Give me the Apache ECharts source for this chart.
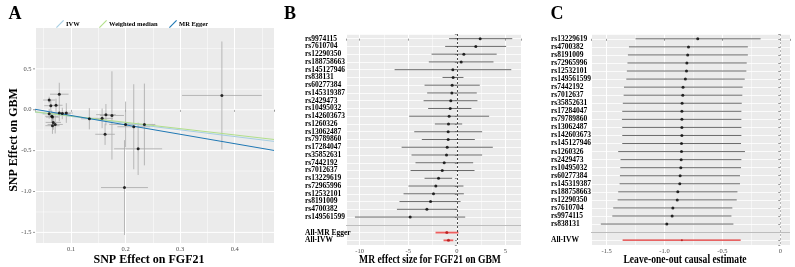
<!DOCTYPE html>
<html>
<head>
<meta charset="utf-8">
<script src="https://cdn.jsdelivr.net/npm/echarts@6/dist/echarts.min.js"></script>
<style>
  html, body { margin: 0; padding: 0; background: #fff; }
  #main { width: 795px; height: 267px; }
</style>
</head>
<body>
<div id="main"></div>
<script>
// ---- panel A: SNP effects (FGF21 vs GBM)
const aBetaX = [0.060, 0.0785, 0.063, 0.0725, 0.060, 0.0646, 0.066, 0.0675, 0.066, 0.071, 0.0785, 0.084, 0.0914, 0.1336, 0.157, 0.164, 0.175, 0.1624, 0.200, 0.215, 0.2345, 0.223, 0.198, 0.3765];
const aSeX = [0.011, 0.017, 0.012, 0.012, 0.012, 0.012, 0.012, 0.014, 0.013, 0.014, 0.015, 0.015, 0.012, 0.015, 0.020, 0.018, 0.022, 0.018, 0.030, 0.030, 0.020, 0.044, 0.043, 0.073];
const aBetaY = [0.119, 0.19, 0.05, 0.055, -0.05, -0.08, -0.09, -0.155, -0.195, -0.18, -0.04, -0.045, -0.04, -0.11, -0.105, -0.06, -0.07, -0.30, -0.18, -0.208, -0.18, -0.478, -0.952, 0.175];
const aSeY = [0.04, 0.14, 0.07, 0.08, 0.06, 0.07, 0.06, 0.09, 0.10, 0.11, 0.10, 0.07, 0.12, 0.13, 0.12, 0.13, 0.54, 0.13, 0.28, 0.52, 0.50, 0.32, 0.58, 0.66];
const fitNames = ['IVW', 'Weighted median', 'MR Egger'];
const fitSlopes = [-0.82, -0.77, -1.15];
const fitIntercepts = [0, 0, 0.045];
const aXRange = [0.034, 0.472];
const aYRange = [-1.63, 1.0];
const aYTicks = [-1.5, -1.0, -0.5, 0, 0.5];
const aYMinorTicks = [-1.25, -0.75, -0.25, 0.25, 0.75];

// ---- panel B: single SNP MR estimates
const snpB = ['rs9974115', 'rs7610704', 'rs12290350', 'rs188758663', 'rs145127946', 'rs838131', 'rs60277384', 'rs145319387', 'rs2429473', 'rs10495032', 'rs142603673', 'rs1260326', 'rs13062487', 'rs79789860', 'rs17284047', 'rs35852631', 'rs7442192', 'rs7012637', 'rs13229619', 'rs72965996', 'rs12532101', 'rs8191009', 'rs4700382', 'rs149561599'];
const bEst = [2.4, 1.95, 0.72, 0.45, -0.41, -0.38, -0.48, -0.51, -0.62, -0.68, -0.79, -0.86, -0.89, -0.89, -0.99, -1.06, -1.3, -1.5, -1.88, -2.16, -2.4, -2.7, -3.08, -4.8];
const bLo = [-0.8, -1.2, -2.6, -2.88, -6.4, -1.47, -3.32, -3.05, -3.42, -2.95, -4.9, -2.26, -4.38, -3.6, -5.68, -4.66, -4.25, -4.76, -3.32, -4.97, -5.48, -5.9, -6.16, -10.48];
const bHi = [5.7, 5.07, 4.1, 3.77, 5.6, 0.68, 2.36, 2.05, 2.12, 1.5, 3.32, 0.55, 2.6, 1.85, 3.7, 2.6, 1.68, 1.82, -0.48, 0.68, 0.72, 0.38, 0.07, 0.86];
const sumNamesB = ['All-MR Egger', 'All-IVW'];
const sumEstB = [-1.03, -0.86];
const sumLoB = [-2.19, -1.37];
const sumHiB = [0.17, -0.36];

// ---- panel C: leave-one-out
const snpC = ['rs13229619', 'rs4700382', 'rs8191009', 'rs72965996', 'rs12532101', 'rs149561599', 'rs7442192', 'rs7012637', 'rs35852631', 'rs17284047', 'rs79789860', 'rs13062487', 'rs142603673', 'rs145127946', 'rs1260326', 'rs2429473', 'rs10495032', 'rs60277384', 'rs145319387', 'rs188758663', 'rs12290350', 'rs7610704', 'rs9974115', 'rs838131'];
const cEst = [-0.713, -0.793, -0.80, -0.807, -0.81, -0.82, -0.84, -0.842, -0.848, -0.85, -0.85, -0.85, -0.85, -0.853, -0.853, -0.856, -0.859, -0.865, -0.868, -0.885, -0.89, -0.928, -0.934, -0.98];
const cLo = [-1.25, -1.307, -1.316, -1.32, -1.325, -1.33, -1.35, -1.353, -1.36, -1.365, -1.368, -1.365, -1.365, -1.365, -1.40, -1.38, -1.382, -1.385, -1.388, -1.40, -1.405, -1.443, -1.451, -1.55];
const cHi = [-0.17, -0.28, -0.28, -0.29, -0.293, -0.307, -0.325, -0.328, -0.333, -0.336, -0.336, -0.336, -0.336, -0.339, -0.305, -0.336, -0.339, -0.348, -0.348, -0.37, -0.376, -0.414, -0.422, -0.405];
const sumNamesC = ['All-IVW'];
const sumEstC = [-0.85];
const sumLoC = [-1.362];
const sumHiC = [-0.342];

const serif = '"Liberation Serif", "DejaVu Serif", serif';
const fitColors = ['#a6cee3', '#b2df8a', '#1f78b4'];

const rowsB = snpB.concat([''], sumNamesB);
const rowsC = snpC.concat([''], sumNamesC);

const chart = echarts.init(document.getElementById('main'));

function hBar(color, width) {
  return function (params, api) {
    const p1 = api.coord([api.value(0), api.value(2)]);
    const p2 = api.coord([api.value(1), api.value(2)]);
    return {
      type: 'line',
      shape: { x1: p1[0], y1: p1[1], x2: p2[0], y2: p2[1] },
      style: { stroke: color, lineWidth: width }
    };
  };
}

function crossBars(params, api) {
  const x = api.value(0), y = api.value(1), sx = api.value(2), sy = api.value(3);
  const l = api.coord([x - sx, y]), r = api.coord([x + sx, y]);
  const t = api.coord([x, y + sy]), b = api.coord([x, y - sy]);
  const st = { stroke: '#a8a8a8', lineWidth: 0.8 };
  return {
    type: 'group',
    children: [
      { type: 'line', shape: { x1: l[0], y1: l[1], x2: r[0], y2: r[1] }, style: st },
      { type: 'line', shape: { x1: t[0], y1: t[1], x2: b[0], y2: b[1] }, style: st }
    ]
  };
}

// panel A horizontal grid + tick labels, placed through the y scale
function yGrid(params, api) {
  const v = api.value(0), major = api.value(1) === 1;
  const p1 = api.coord([aXRange[0], v]);
  const p2 = api.coord([aXRange[1], v]);
  const kids = [
    { type: 'line', shape: { x1: p1[0], y1: p1[1], x2: p2[0], y2: p2[1] },
      style: { stroke: '#fff', lineWidth: major ? 1 : 0.5 } }
  ];
  if (major) {
    kids.push({ type: 'line', shape: { x1: p1[0] - 2, y1: p1[1], x2: p1[0], y2: p1[1] },
      style: { stroke: '#333', lineWidth: 0.5 } });
    kids.push({ type: 'text', x: p1[0] - 3.5, y: p1[1],
      style: { text: v.toFixed(1), textAlign: 'right', textVerticalAlign: 'middle',
        font: '6.5px ' + serif, fill: '#4d4d4d' } });
  }
  return { type: 'group', children: kids };
}

// label only the "round" ticks strictly inside the range
function stepLabel(step, range, fmt) {
  return function (v) {
    const k = Math.round(v / step);
    const onStep = Math.abs(v - k * step) < step * 1e-4;
    const inside = v > range[0] + step * 0.05 && v < range[1] - step * 0.05;
    return onStep && inside ? fmt(k * step) : '';
  };
}

const tickLabel = { fontFamily: serif, fontSize: 6.5, color: '#4d4d4d', margin: 3 };
const majorLine = { show: true, lineStyle: { color: '#fff', width: 1 } };
const minorLine = { show: true, lineStyle: { color: '#fff', width: 0.5 } };

function valueAxis(idx, range, step, fmt) {
  return {
    type: 'value', gridIndex: idx, min: range[0], max: range[1],
    minInterval: step, maxInterval: step,
    axisLine: { show: false },
    axisTick: { show: true, length: 2, lineStyle: { color: '#333', width: 0.5 } },
    axisLabel: Object.assign({ formatter: stepLabel(step, range, fmt) }, tickLabel),
    splitLine: majorLine,
    minorTick: { show: false, splitNumber: 2 },
    minorSplitLine: minorLine
  };
}

function rowAxis(idx, rows, margin) {
  return {
    type: 'value', gridIndex: idx, inverse: true,
    min: -0.6, max: rows.length - 0.4,
    minInterval: 1, maxInterval: 1,
    axisLine: { show: false },
    axisTick: { show: true, length: 2, lineStyle: { color: '#333', width: 0.5 } },
    splitLine: { show: true, lineStyle: { color: '#fff', width: 0.8 } },
    axisLabel: {
      fontFamily: serif, fontSize: 7.5, fontWeight: 'bold', color: '#000',
      align: 'left', margin: margin,
      formatter: function (v) {
        const r = Math.round(v);
        return Math.abs(v - r) < 1e-6 && rows[r] ? rows[r] : '';
      }
    }
  };
}

const aErr = aBetaX.map((x, i) => [x, aBetaY[i], aSeX[i], aSeY[i]]);
const aPts = aBetaX.map((x, i) => [x, aBetaY[i]]);
const aGridData = aYTicks.map(v => [v, 1]).concat(aYMinorTicks.map(v => [v, 0]));

const fitSeries = fitNames.map((name, i) => ({
  name: name, type: 'line', xAxisIndex: 0, yAxisIndex: 0,
  showSymbol: false, silent: true, z: 4,
  lineStyle: { color: fitColors[i], width: 1 },
  itemStyle: { color: fitColors[i] },
  data: aXRange.map(x => [x, fitIntercepts[i] + fitSlopes[i] * x])
}));

const legendLefts = [56, 99, 169];
const legends = fitNames.map((n, i) => ({
  left: legendLefts[i], top: 20, itemWidth: 8, itemHeight: 8, padding: 0,
  selectedMode: false,
  textStyle: { fontFamily: serif, fontSize: 6.5, fontWeight: 'bold', color: '#000', padding: [0, 0, 0, -3] },
  data: [{ name: n, icon: 'path://M0,9 L1,10 L10,1 L9,0 Z' }]
}));

const option = {
  animation: false,
  backgroundColor: '#fff',
  legend: legends,
  grid: [
    { left: 35, top: 28, width: 239, height: 215, show: true, backgroundColor: '#ebebeb', borderWidth: 0 },
    { left: 346, top: 34, width: 175, height: 211, show: true, backgroundColor: '#ebebeb', borderWidth: 0 },
    { left: 591, top: 34, width: 199, height: 211, show: true, backgroundColor: '#ebebeb', borderWidth: 0 }
  ],
  xAxis: [
    valueAxis(0, aXRange, 0.1, v => v.toFixed(1)),
    valueAxis(1, [-11.4, 6.6], 5, v => String(v)),
    valueAxis(2, [-1.635, 0.084], 0.5, v => v === 0 ? '0' : v.toFixed(1))
  ],
  yAxis: [
    {
      type: 'value', gridIndex: 0, min: aYRange[0], max: aYRange[1],
      axisLine: { show: false }, axisTick: { show: false }, axisLabel: { show: false },
      splitLine: { show: false }, minorSplitLine: { show: false }
    },
    rowAxis(1, rowsB, 41),
    rowAxis(2, rowsC, 40)
  ],
  series: [
    {
      type: 'custom', xAxisIndex: 0, yAxisIndex: 0, clip: false, silent: true, z: 1,
      renderItem: yGrid, encode: { y: 0 }, data: aGridData
    },
    {
      type: 'custom', xAxisIndex: 0, yAxisIndex: 0, clip: true, silent: true, z: 2,
      renderItem: crossBars, encode: { x: 0, y: 1 }, data: aErr
    },
    {
      type: 'scatter', xAxisIndex: 0, yAxisIndex: 0, symbolSize: 3, z: 5,
      itemStyle: { color: '#000' }, data: aPts
    },
    ...fitSeries,
    // B
    {
      type: 'custom', xAxisIndex: 1, yAxisIndex: 1, clip: true, silent: true, z: 2,
      renderItem: hBar('#5a5a5a', 0.9), encode: { x: [0, 1], y: 2 },
      data: snpB.map((s, i) => [bLo[i], bHi[i], i]),
      markLine: {
        silent: true, symbol: 'none', label: { show: false },
        data: [
          { xAxis: 0, lineStyle: { color: '#000', type: [2, 2], width: 0.7 } },
          { yAxis: snpB.length, lineStyle: { color: '#bdbdbd', type: 'solid', width: 1 } }
        ]
      }
    },
    {
      type: 'scatter', xAxisIndex: 1, yAxisIndex: 1, symbolSize: 3, z: 5,
      itemStyle: { color: '#000' }, data: bEst.map((v, i) => [v, i])
    },
    {
      type: 'custom', xAxisIndex: 1, yAxisIndex: 1, clip: true, silent: true, z: 3,
      renderItem: hBar('#f06060', 1.8), encode: { x: [0, 1], y: 2 },
      data: sumNamesB.map((s, i) => [sumLoB[i], sumHiB[i], snpB.length + 1 + i])
    },
    {
      type: 'scatter', xAxisIndex: 1, yAxisIndex: 1, symbolSize: 3, z: 5,
      itemStyle: { color: '#b01010' }, data: sumEstB.map((v, i) => [v, snpB.length + 1 + i])
    },
    // C
    {
      type: 'custom', xAxisIndex: 2, yAxisIndex: 2, clip: true, silent: true, z: 2,
      renderItem: hBar('#5a5a5a', 0.9), encode: { x: [0, 1], y: 2 },
      data: snpC.map((s, i) => [cLo[i], cHi[i], i]),
      markLine: {
        silent: true, symbol: 'none', label: { show: false },
        data: [
          { xAxis: 0, lineStyle: { color: '#9a9a9a', type: [2, 2], width: 0.7 } },
          { yAxis: snpC.length, lineStyle: { color: '#bdbdbd', type: 'solid', width: 1 } }
        ]
      }
    },
    {
      type: 'scatter', xAxisIndex: 2, yAxisIndex: 2, symbolSize: 3, z: 5,
      itemStyle: { color: '#000' }, data: cEst.map((v, i) => [v, i])
    },
    {
      type: 'custom', xAxisIndex: 2, yAxisIndex: 2, clip: true, silent: true, z: 3,
      renderItem: hBar('#e03030', 1.2), encode: { x: [0, 1], y: 2 },
      data: sumNamesC.map((s, i) => [sumLoC[i], sumHiC[i], snpC.length + 1 + i])
    },
    {
      type: 'scatter', xAxisIndex: 2, yAxisIndex: 2, symbolSize: 2, z: 5,
      itemStyle: { color: '#b01010' }, data: sumEstC.map((v, i) => [v, snpC.length + 1 + i])
    }
  ],
  graphic: [
    { type: 'text', x: 15, y: 14, style: { text: 'A', font: 'bold 18px ' + serif, fill: '#000', textAlign: 'center', textVerticalAlign: 'middle' } },
    { type: 'text', x: 290, y: 14, style: { text: 'B', font: 'bold 18px ' + serif, fill: '#000', textAlign: 'center', textVerticalAlign: 'middle' } },
    { type: 'text', x: 557, y: 14, style: { text: 'C', font: 'bold 18px ' + serif, fill: '#000', textAlign: 'center', textVerticalAlign: 'middle' } },
    { type: 'text', x: 149, y: 260, style: { text: 'SNP Effect on FGF21', font: 'bold 12px ' + serif, fill: '#000', textAlign: 'center', textVerticalAlign: 'middle' } },
    { type: 'text', x: 14, y: 140, rotation: Math.PI / 2, style: { text: 'SNP Effect on GBM', font: 'bold 12px ' + serif, fill: '#000', textAlign: 'center', textVerticalAlign: 'middle' } },
    { type: 'text', x: 430, y: 259.5, scaleX: 0.8, style: { text: 'MR effect size for FGF21 on GBM', font: 'bold 12px ' + serif, fill: '#000', textAlign: 'center', textVerticalAlign: 'middle' } },
    { type: 'text', x: 685, y: 259.5, scaleX: 0.8, style: { text: 'Leave-one-out causal estimate', font: 'bold 12px ' + serif, fill: '#000', textAlign: 'center', textVerticalAlign: 'middle' } }
  ]
};

chart.setOption(option);
</script>
</body>
</html>
